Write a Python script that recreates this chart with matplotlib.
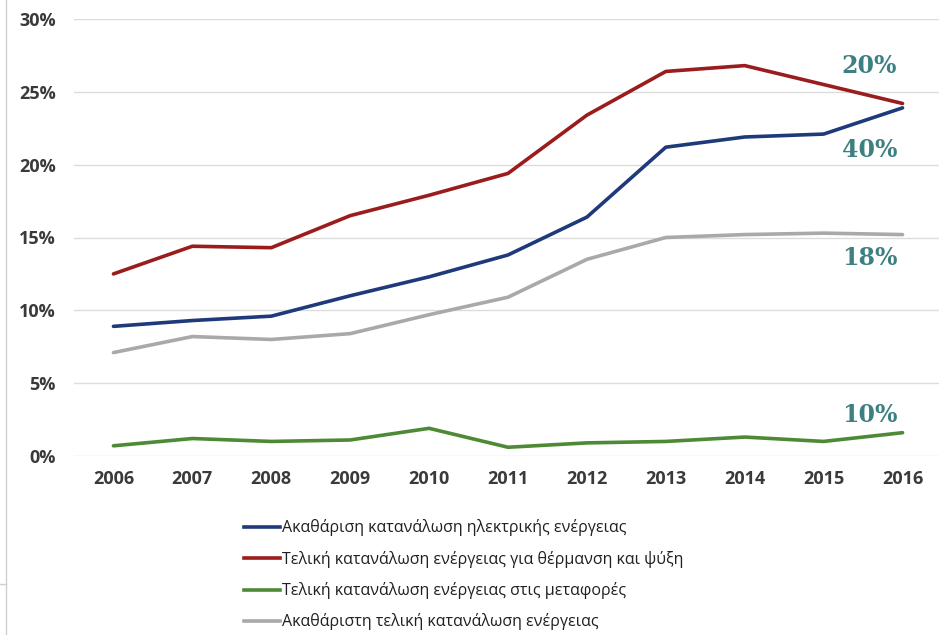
import matplotlib.pyplot as plt
from matplotlib.lines import Line2D

plt.rcParams['font.family'] = ['Open Sans', 'DejaVu Sans']

# Data
years = [2006, 2007, 2008, 2009, 2010, 2011, 2012, 2013, 2014, 2015, 2016]
electricity = [8.9, 9.3, 9.6, 11.0, 12.3, 13.8, 16.4, 21.2, 21.9, 22.1, 23.9]
heating = [12.5, 14.4, 14.3, 16.5, 17.9, 19.4, 23.4, 26.4, 26.8, 25.5, 24.2]
transport = [0.7, 1.2, 1.0, 1.1, 1.9, 0.6, 0.9, 1.0, 1.3, 1.0, 1.6]
gross_final = [7.1, 8.2, 8.0, 8.4, 9.7, 10.9, 13.5, 15.0, 15.2, 15.3, 15.2]

labels = ['Ακαθάριση κατανάλωση ηλεκτρικής ενέργειας',
          'Τελική κατανάλωση ενέργειας για θέρμανση και ψύξη',
          'Τελική κατανάλωση ενέργειας στις μεταφορές',
          'Ακαθάριστη τελική κατανάλωση ενέργειας']
colors = ['#1f3a7a', '#9b1c1c', '#4e8a35', '#a9a9a9']

# targets written next to the 2016 end points
targets = ['40%', '20%', '10%', '18%']
target_y = [21.0, 26.8, 2.8, 13.6]

yticks = [0, 5, 10, 15, 20, 25, 30]

fig = plt.figure(figsize=(9.39, 6.35), dpi=100)
ax = fig.add_axes([74 / 939, 179 / 635, 868 / 939, 437 / 635])

series = [electricity, heating, transport, gross_final]
for vals, c, lab in zip(series, colors, labels):
    ax.plot(years, vals, color=c, lw=2.6, label=lab, solid_capstyle='round', zorder=3)

for t, ty in zip(targets, target_y):
    ax.text(2015.58, ty, t, color='#3d8082', fontsize=17, fontweight='bold',
            family=['DejaVu Serif'], ha='center', va='center')

ax.set_xlim(2005.5, 2016.5)
ax.set_ylim(0, 30)
ax.set_xticks(years)
ax.set_yticks(yticks)
ax.set_yticklabels([f'{v}%' for v in yticks])
ax.grid(axis='y', color='#dcdcdc', lw=1)
ax.set_axisbelow(True)
for s in ax.spines.values():
    s.set_visible(False)
ax.tick_params(length=0, labelsize=13, labelcolor='#3a3a3a', pad=10)
ax.tick_params(axis='y', pad=13)
for lbl in ax.get_xticklabels() + ax.get_yticklabels():
    lbl.set_fontweight('bold')

handles = [Line2D([], [], color=c, lw=2.6) for c in colors]
fig.legend(handles, labels, loc='upper left', bbox_to_anchor=(230 / 939, 1 - 505 / 635),
           frameon=False, fontsize=11.5, handlelength=2.2, handletextpad=0.15,
           labelspacing=0.9, labelcolor='#202020')

# thin frame remnants on the left edge
fig.add_artist(Line2D([5.5 / 939, 5.5 / 939], [0, 1], color='#d0d0d0', lw=1))
fig.add_artist(Line2D([0, 5.5 / 939], [1 - 584 / 635, 1 - 584 / 635], color='#d0d0d0', lw=1))

fig.savefig('out.png', dpi=100)
